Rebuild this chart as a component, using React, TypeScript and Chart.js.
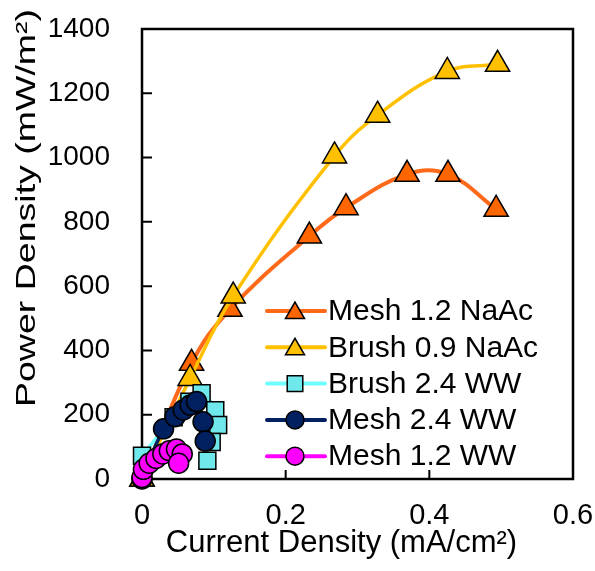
import React, { useEffect, useRef } from "react";
import { Chart, registerables } from "chart.js";

Chart.register(...registerables);

// ---------- data ----------
const seriesNames = ["Mesh 1.2 NaAc", "Brush 0.9 NaAc", "Brush 2.4 WW", "Mesh 2.4 WW", "Mesh 1.2 WW"];

const mesh12NaAcX = [0, 0.069, 0.1225, 0.233, 0.284, 0.369, 0.426, 0.493];
const mesh12NaAcY = [0, 360, 528, 756, 844, 948, 948, 839];

const brush09NaAcX = [0, 0.067, 0.127, 0.268, 0.328, 0.425, 0.495];
const brush09NaAcY = [0, 313, 569, 1005, 1132, 1268, 1290];

const brush24WWX = [0, 0.044, 0.066, 0.083, 0.102, 0.106, 0.097, 0.091];
const brush24WWY = [72, 192, 240, 267, 214, 168, 115, 57];

const mesh24WWX = [0, 0.03, 0.046, 0.0575, 0.067, 0.076, 0.085, 0.088];
const mesh24WWY = [0, 156, 194, 215, 230, 241, 178, 118];

const mesh12WWX = [0, 0.002, 0.01, 0.0195, 0.029, 0.038, 0.048, 0.056, 0.051];
const mesh12WWY = [5, 30, 49, 64, 78, 88, 93, 78, 49];

const xTickValues = [0, 0.2, 0.4, 0.6];
const yTickValues = [0, 200, 400, 600, 800, 1000, 1200, 1400];

const xTitle = "Current Density (mA/cm²)";
const yTitle = "Power Density (mW/m²)";

// ---------- styles ----------
const FONT = "'Liberation Sans', Arial, sans-serif";

type Style = { line: string; fill: string; shape: string; r: number; lr: number; lw: number };
const styles: Style[] = [
  { line: "#FF6A1A", fill: "#FF6600", shape: "triangle", r: 14, lr: 11, lw: 4 },
  { line: "#FFC000", fill: "#FFC000", shape: "triangle", r: 14, lr: 11, lw: 3.5 },
  { line: "#70FFFF", fill: "#6FE8EC", shape: "rect", r: 12, lr: 11, lw: 3.5 },
  { line: "#002060", fill: "#002060", shape: "circle", r: 10, lr: 9, lw: 3.5 },
  { line: "#FF00FF", fill: "#FF00FF", shape: "circle", r: 10, lr: 9, lw: 3.5 },
];

function pts(xs: number[], ys: number[]) {
  return xs.map((x, i) => ({ x, y: ys[i] }));
}

function drawMarker(ctx: CanvasRenderingContext2D, shape: string, x: number, y: number, r: number, fill: string) {
  ctx.beginPath();
  if (shape === "triangle") {
    const a = -Math.PI / 2;
    for (let k = 0; k < 3; k++) {
      const ang = a + (k * 2 * Math.PI) / 3;
      const px = x + Math.cos(ang) * r;
      const py = y + Math.sin(ang) * r;
      if (k === 0) ctx.moveTo(px, py);
      else ctx.lineTo(px, py);
    }
    ctx.closePath();
  } else if (shape === "rect") {
    const s = r * Math.SQRT1_2;
    ctx.rect(x - s, y - s, 2 * s, 2 * s);
  } else {
    ctx.arc(x, y, r, 0, Math.PI * 2);
  }
  ctx.fillStyle = fill;
  ctx.fill();
  ctx.lineWidth = 1.5;
  ctx.strokeStyle = "#000";
  ctx.stroke();
}

const framePlugin = {
  id: "frame",
  beforeDatasetsDraw(chart: any) {
    const { ctx, chartArea: a, scales } = chart;
    ctx.save();
    ctx.strokeStyle = "#000";
    ctx.lineWidth = 2;
    ctx.beginPath();
    yTickValues.forEach((v) => {
      const py = scales.y.getPixelForValue(v);
      ctx.moveTo(a.left, py);
      ctx.lineTo(a.left + 10, py);
    });
    xTickValues.forEach((v) => {
      const px = scales.x.getPixelForValue(v);
      ctx.moveTo(px, a.bottom);
      ctx.lineTo(px, a.bottom - 9);
    });
    ctx.stroke();
    ctx.lineWidth = 2.5;
    ctx.strokeRect(a.left, a.top, a.right - a.left, a.bottom - a.top);
    ctx.restore();
  },
};

const decorPlugin = {
  id: "decor",
  afterDraw(chart: any) {
    const { ctx, chartArea: a } = chart;
    ctx.save();
    // legend
    const lx0 = a.left + 125;
    const lx1 = a.left + 183;
    const mx = a.left + 153;
    const tx = a.left + 186;
    seriesNames.forEach((name, i) => {
      const st = styles[i];
      const y = a.top + 282 + i * 36.3;
      ctx.beginPath();
      ctx.strokeStyle = st.line;
      ctx.lineWidth = 4;
      ctx.lineCap = "round";
      ctx.moveTo(lx0, y);
      ctx.lineTo(lx1, y);
      ctx.stroke();
      drawMarker(ctx, st.shape, mx, st.shape === "triangle" ? y + 2 : y, st.lr, st.fill);
      ctx.fillStyle = "#000";
      ctx.font = `30px ${FONT}`;
      ctx.textAlign = "left";
      ctx.textBaseline = "middle";
      ctx.fillText(name, tx, y + 1);
    });
    // x title
    ctx.fillStyle = "#000";
    ctx.font = `31px ${FONT}`;
    ctx.textAlign = "center";
    ctx.textBaseline = "alphabetic";
    ctx.fillText(xTitle, (a.left + a.right) / 2 - 16, 552);
    // y title (stretched along its length)
    ctx.save();
    ctx.translate(35, 208);
    ctx.rotate(-Math.PI / 2);
    ctx.scale(1.34, 1);
    ctx.font = `28px ${FONT}`;
    ctx.textAlign = "center";
    ctx.textBaseline = "alphabetic";
    ctx.fillText(yTitle, 0, 0);
    ctx.restore();
    ctx.restore();
  },
};

function zeroPadding(s: any) {
  s.paddingTop = 0;
  s.paddingBottom = 0;
  s.paddingLeft = 0;
  s.paddingRight = 0;
}

export default function App() {
  const ref = useRef<HTMLCanvasElement | null>(null);

  useEffect(() => {
    document.body.style.margin = "0";
    const canvas = ref.current;
    if (!canvas) return;
    const seriesData = [
      pts(mesh12NaAcX, mesh12NaAcY),
      pts(brush09NaAcX, brush09NaAcY),
      pts(brush24WWX, brush24WWY),
      pts(mesh24WWX, mesh24WWY),
      pts(mesh12WWX, mesh12WWY),
    ];
    const chart = new Chart(canvas, {
      type: "line",
      data: {
        datasets: seriesData.map((d, i) => ({
          label: seriesNames[i],
          data: d,
          borderColor: styles[i].line,
          backgroundColor: styles[i].fill,
          borderWidth: styles[i].lw,
          pointStyle: styles[i].shape as any,
          pointRadius: styles[i].r,
          pointHoverRadius: styles[i].r,
          pointBackgroundColor: styles[i].fill,
          pointBorderColor: "#000",
          pointBorderWidth: 1.5,
          tension: 0.4,
          fill: false,
          clip: false as any,
          order: 4 - i,
        })),
      },
      options: {
        responsive: false,
        devicePixelRatio: 1,
        animation: false,
        events: [],
        layout: { autoPadding: false, padding: { top: 29, right: 22, left: 0, bottom: 0 } },
        plugins: { legend: { display: false }, tooltip: { enabled: false } },
        scales: {
          x: {
            type: "linear",
            min: 0,
            max: 0.6,
            afterFit: (s: any) => {
              s.height = 92;
              zeroPadding(s);
            },
            afterBuildTicks: (s: any) => {
              s.ticks = xTickValues.map((v) => ({ value: v }));
            },
            ticks: {
              color: "#000",
              font: { family: FONT, size: 29 },
              padding: 20,
              maxRotation: 0,
              autoSkip: false,
              callback: (v: any) => String(+Number(v).toFixed(1)),
            },
            grid: { display: false, drawTicks: false },
            border: { display: false },
          },
          y: {
            type: "linear",
            min: 0,
            max: 1400,
            afterFit: (s: any) => {
              s.width = 142;
              zeroPadding(s);
            },
            afterBuildTicks: (s: any) => {
              s.ticks = yTickValues.map((v) => ({ value: v }));
            },
            ticks: {
              color: "#000",
              font: { family: FONT, size: 28 },
              padding: 32,
              autoSkip: false,
              callback: (v: any) => String(v),
            },
            grid: { display: false, drawTicks: false },
            border: { display: false },
          },
        },
      },
      plugins: [framePlugin, decorPlugin],
    });
    return () => chart.destroy();
  }, []);

  return (
    <div style={{ width: 595, height: 571, position: "relative" }}>
      <canvas ref={ref} width={595} height={571} style={{ display: "block" }} />
    </div>
  );
}
